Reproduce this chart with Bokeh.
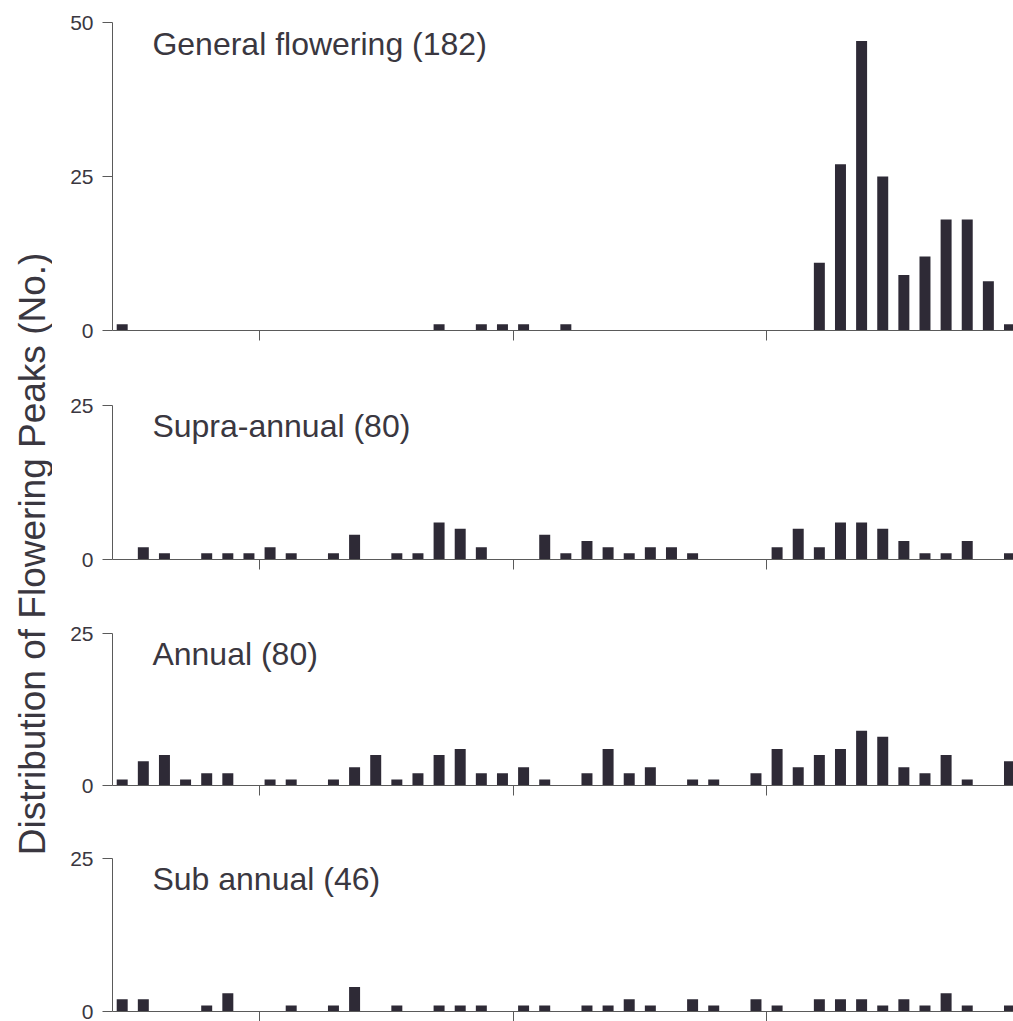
from bokeh.plotting import figure
from bokeh.models import FixedTicker, Label, Range1d, ColumnDataSource
from bokeh.layouts import row, column
from bokeh.embed import file_html
from bokeh.resources import INLINE

# ---- data (monthly flowering peaks, month index 0..42) ----
months = list(range(43))
general = [1, 0, 0, 0, 0, 0, 0, 0, 0, 0, 0, 0, 0, 0, 0, 1, 0, 1, 1, 1, 0, 1,
           0, 0, 0, 0, 0, 0, 0, 0, 0, 0, 0, 11, 27, 47, 25, 9, 12, 18, 18, 8, 1]
supra = [0, 2, 1, 0, 1, 1, 1, 2, 1, 0, 1, 4, 0, 1, 1, 6, 5, 2, 0, 0, 4, 1,
         3, 2, 1, 2, 2, 1, 0, 0, 0, 2, 5, 2, 6, 6, 5, 3, 1, 1, 3, 0, 1]
annual = [1, 4, 5, 1, 2, 2, 0, 1, 1, 0, 1, 3, 5, 1, 2, 5, 6, 2, 2, 3, 1, 0,
          2, 6, 2, 3, 0, 1, 1, 0, 2, 6, 3, 5, 6, 9, 8, 3, 2, 5, 1, 0, 4]
sub = [2, 2, 0, 0, 1, 3, 0, 0, 1, 0, 1, 4, 0, 1, 0, 1, 1, 1, 0, 1, 1, 0,
       1, 1, 2, 1, 0, 2, 1, 0, 2, 1, 0, 2, 2, 2, 1, 2, 1, 3, 1, 0, 1]
panel_labels = ["General flowering (182)", "Supra-annual (80)",
                "Annual (80)", "Sub annual (46)"]
panel_series = [general, supra, annual, sub]
panel_ymax = [50, 25, 25, 25]
panel_yticks = [[0, 25, 50], [0, 25], [0, 25], [0, 25]]
year_ticks = [6.5, 18.5, 30.5]
y_title = "Distribution of Flowering Peaks (No.)"

FONT = "Liberation Sans"
BAR = "#2e2a36"
TXT = "#3a3740"
AX = "#5a5a5a"

# layout geometry: (height, border_top, border_bottom)
geom = [(391, 22, 61), (228, 14, 60), (225, 14, 59), (177, 14, 10)]
label_y = [46.5, 21.7, 21.7, 21.7]

TITLE_W = 52
PANEL_W = 961
X0, X1 = -0.459, 42.19

figs = []
for k in range(4):
    h, bt, bb = geom[k]
    p = figure(width=PANEL_W, height=h, output_backend="svg", toolbar_location=None,
               x_range=Range1d(X0, X1), y_range=Range1d(0, panel_ymax[k]),
               min_border_left=60, min_border_right=0,
               min_border_top=bt, min_border_bottom=bb)
    p.outline_line_color = None
    p.grid.visible = False
    p.background_fill_color = "white"
    p.border_fill_color = "white"

    src = ColumnDataSource(dict(x=months, top=panel_series[k]))
    p.vbar(x="x", top="top", width=0.52, source=src, fill_color=BAR, line_color=None)

    # x axis
    xa = p.xaxis[0]
    xa.ticker = FixedTicker(ticks=year_ticks)
    xa.major_label_overrides = {t: "" for t in year_ticks}
    xa.major_label_text_font_size = "0px"
    xa.major_label_standoff = 0
    xa.major_tick_out = 10
    xa.major_tick_in = 0
    xa.minor_tick_line_color = None
    xa.axis_line_color = AX
    xa.major_tick_line_color = AX

    # y axis
    ya = p.yaxis[0]
    ya.ticker = FixedTicker(ticks=panel_yticks[k])
    ya.bounds = (0, panel_ymax[k])
    ya.major_tick_out = 10
    ya.major_tick_in = 0
    ya.minor_tick_line_color = None
    ya.axis_line_color = AX
    ya.major_tick_line_color = AX
    ya.major_label_text_font = FONT
    ya.major_label_text_font_size = "21px"
    ya.major_label_text_color = TXT
    ya.major_label_standoff = 9

    p.add_layout(Label(x=1.43, y=label_y[k], text=panel_labels[k],
                       text_font=FONT, text_font_size="32px", text_color=TXT,
                       text_baseline="alphabetic", text_align="left"))
    figs.append(p)

tf = figure(width=TITLE_W, height=sum(g[0] for g in geom), output_backend="svg",
            toolbar_location=None, x_range=Range1d(0, 1), y_range=Range1d(0, 1),
            min_border=0)
tf.axis.visible = False
tf.grid.visible = False
tf.outline_line_color = None
tf.add_layout(Label(x=0.62, y=0.458, text=y_title, angle=90, angle_units="deg",
                    text_align="center", text_baseline="middle",
                    text_font=FONT, text_font_size="37px", text_color=TXT))

layout = row(tf, column(*figs))
open("out.html", "w").write(file_html(layout, INLINE))
